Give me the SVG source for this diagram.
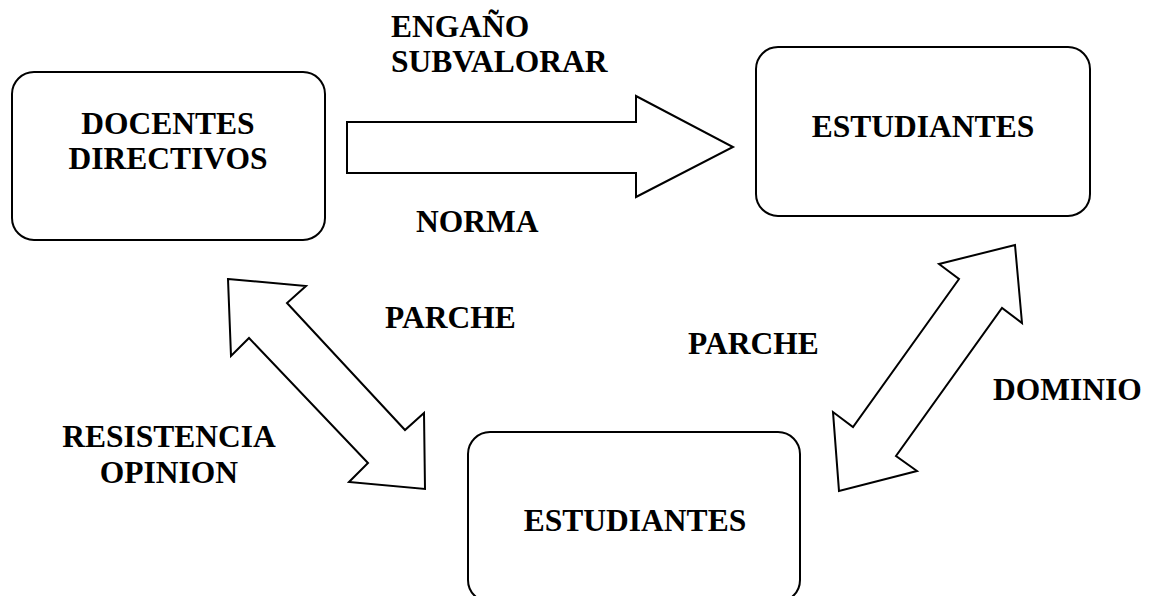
<svg xmlns="http://www.w3.org/2000/svg" width="1155" height="596" viewBox="0 0 1155 596">
<style>
.box{fill:#fff;stroke:#000;stroke-width:2}
.arr{fill:#fff;stroke:#000;stroke-width:2;stroke-linejoin:miter}
text{font-family:"Liberation Serif","Times New Roman",serif;font-weight:bold;font-size:31.5px;fill:#000}
.c{text-anchor:middle}
</style>
<rect width="1155" height="596" fill="#fff"/>
<g id="connectors">
<polygon class="arr" points="347,122 636,122 636,96 733,147 636,197 636,173 347,173"/>
<polygon class="arr" points="228,279 306,286 287,303 405,430 424,413 425,489 349,482 368,463 249,338 231,356"/>
<polygon class="arr" points="1015,245 1022,323 1002,308 896,456 917,471 839,491 833,412 853,427 959,279 939,264"/>
</g>
<g id="docentes">
<rect class="box" x="12" y="72" width="313" height="168" rx="22"/>
<text class="c" x="168" y="134">DOCENTES</text>
<text class="c" x="168" y="169">DIRECTIVOS</text>
</g>
<g id="estudiantes-top">
<rect class="box" x="756" y="47" width="334" height="169" rx="22"/>
<text class="c" x="923" y="137">ESTUDIANTES</text>
</g>
<g id="estudiantes-bottom">
<rect class="box" x="468" y="432" width="332" height="170" rx="22"/>
<text class="c" x="635" y="531">ESTUDIANTES</text>
</g>
<g id="labels">
<text x="391" y="37">ENGAÑO</text>
<text x="391" y="72">SUBVALORAR</text>
<text x="416" y="232">NORMA</text>
<text x="385" y="328">PARCHE</text>
<text x="688" y="354">PARCHE</text>
<text x="993" y="400">DOMINIO</text>
<text class="c" x="169" y="447">RESISTENCIA</text>
<text class="c" x="169" y="483">OPINION</text>
</g>
</svg>
